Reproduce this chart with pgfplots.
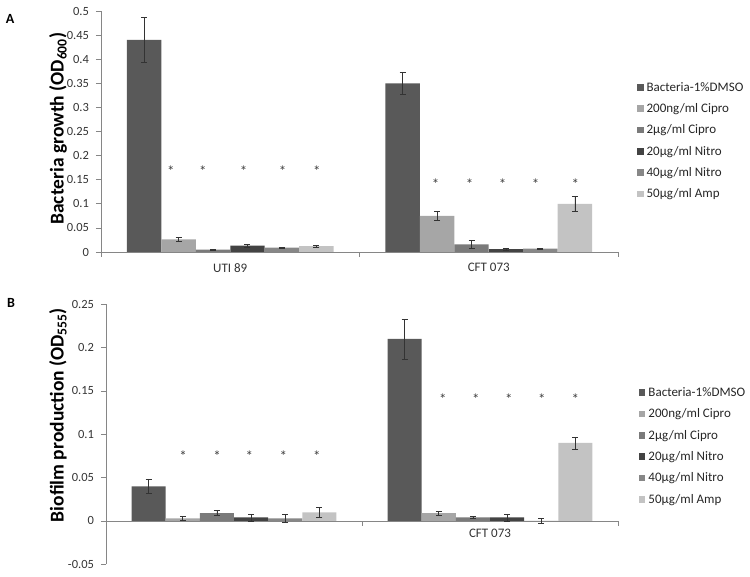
\documentclass[border=0pt]{standalone}
\usepackage{pgfplots}
\pgfplotsset{compat=1.18}
\usepackage{fontspec}
\setmainfont{Carlito}
\definecolor{axgray}{HTML}{868686}
\definecolor{c1}{HTML}{595959}
\definecolor{c2}{HTML}{A6A6A6}
\definecolor{c3}{HTML}{7A7A7A}
\definecolor{c4}{HTML}{434343}
\definecolor{c5}{HTML}{878787}
\definecolor{c6}{HTML}{C3C3C3}
\pgfplotsset{
  common/.style={
    scale only axis,
    xmin=-0.5, xmax=1.5,
    xtick={-0.5,0.5,1.5},
    x tick label as interval,
    xticklabels={UTI 89, CFT 073},
    axis y line*=left,
    axis line style={draw=axgray, line width=0.7pt},
    tick style={draw=axgray, line width=0.7pt},
    tick align=outside,
    major tick length=5pt,
    /pgf/number format/assume math mode=true,
    yticklabel style={/pgf/number format/fixed, /pgf/number format/precision=2, text=black!80,
      font=\fontsize{12.5}{15}\selectfont, xshift=-3.5pt},
    xticklabel style={font=\fontsize{13}{15}\selectfont, text=black!80},
    legend cell align=left,
    legend image code/.code={\fill[##1] (0pt,-3.4pt) rectangle (6.8pt,3.4pt);},
    legend style={draw=none, fill=none, anchor=west, inner sep=0pt,
      font=\fontsize{13}{15}\selectfont, text=black!85, row sep=6.8pt,
      /tikz/every odd column/.append style={column sep=1pt}},
  },
  bars/.style={ybar, bar width=0.1333, bar shift=0, draw=none,
    error bars/y dir=both, error bars/y explicit,
    error bars/error bar style={black!80, line width=0.7pt},
    error bars/error mark options={rotate=90, mark size=3pt, black!80, line width=0.7pt}},
  stars/.style={forget plot, draw=none, mark=none, only marks,
    nodes near coords={*},
    every node near coord/.append style={anchor=center, inner sep=0pt, font=\fontsize{15}{17}\selectfont, text=black!75}},
}
\begin{document}
\begin{tikzpicture}[x=1pt,y=1pt]
\useasboundingbox (0,0) rectangle (750,576);
\node[font=\bfseries\fontsize{14}{16}\selectfont] at (10,557) {A};
\node[font=\bfseries\fontsize{14}{16}\selectfont] at (11,273) {B};
% Panel A  (bars at group position + offset: -0.3333,-0.2,-0.0667,0.0667,0.2,0.3333)
\begin{axis}[common,
  at={(101pt,324pt)}, anchor=south west,
  width=517pt, height=241pt,
  axis x line*=bottom,
  xticklabel style={yshift=-3pt},
  ymin=0, ymax=0.5,
  ytick={0,0.05,0.1,0.15,0.2,0.25,0.3,0.35,0.4,0.45,0.5},
  ylabel={Bacteria growth (OD\textsubscript{600})},
  ylabel style={at={(axis description cs:-0.0832,0.512)}, anchor=center, font=\bfseries\fontsize{19.5}{22}\selectfont},
  legend style={at={(1.036,0.462)}},
]
\addplot[bars, fill=c1] coordinates {(-0.3333,0.44) +- (0,0.047) (0.6667,0.35) +- (0,0.022)};
\addplot[bars, fill=c2] coordinates {(-0.2,0.026) +- (0,0.004) (0.8,0.075) +- (0,0.009)};
\addplot[bars, fill=c3] coordinates {(-0.0667,0.005) +- (0,0.001) (0.9333,0.016) +- (0,0.008)};
\addplot[bars, fill=c4] coordinates {(0.0667,0.013) +- (0,0.003) (1.0667,0.006) +- (0,0.002)};
\addplot[bars, fill=c5] coordinates {(0.2,0.009) +- (0,0.001) (1.2,0.007) +- (0,0.001)};
\addplot[bars, fill=c6] coordinates {(0.3333,0.012) +- (0,0.002) (1.3333,0.1) +- (0,0.016)};
\addplot[stars] coordinates {(-0.23,0.168) (-0.106,0.168) (0.052,0.168) (0.203,0.168) (0.335,0.168)
  (0.794,0.141) (0.926,0.141) (1.054,0.141) (1.181,0.141) (1.335,0.141)};
\legend{Bacteria-1\%DMSO, 200ng/ml Cipro, 2µg/ml Cipro, 20µg/ml Nitro, 40µg/ml Nitro, 50µg/ml Amp}
\end{axis}
% Panel B
\begin{axis}[common,
  at={(106pt,11.7pt)}, anchor=south west,
  width=512pt, height=260pt,
  axis x line*=middle,
  ymin=-0.05, ymax=0.25,
  ytick={-0.05,0,0.05,0.1,0.15,0.2,0.25},
  ylabel={Biofilm production (OD\textsubscript{555})},
  ylabel style={at={(axis description cs:-0.0938,0.574)}, anchor=center, font=\bfseries\fontsize{19.5}{22}\selectfont},
  legend style={at={(1.04,0.455)}},
]
\addplot[bars, fill=c1] coordinates {(-0.3333,0.04) +- (0,0.0085) (0.6667,0.21) +- (0,0.023)};
\addplot[bars, fill=c2] coordinates {(-0.2,0.003) +- (0,0.002) (0.8,0.009) +- (0,0.002)};
\addplot[bars, fill=c3] coordinates {(-0.0667,0.009) +- (0,0.003) (0.9333,0.004) +- (0,0.001)};
\addplot[bars, fill=c4] coordinates {(0.0667,0.004) +- (0,0.004) (1.0667,0.004) +- (0,0.004)};
\addplot[bars, fill=c5] coordinates {(0.2,0.003) +- (0,0.005) (1.2,0.0) +- (0,0.003)};
\addplot[bars, fill=c6] coordinates {(0.3333,0.010) +- (0,0.006) (1.3333,0.09) +- (0,0.007)};
\addplot[stars] coordinates {(-0.199,0.075) (-0.066,0.075) (0.06,0.075) (0.193,0.075) (0.324,0.075)
  (0.816,0.141) (0.945,0.141) (1.074,0.141) (1.203,0.141) (1.333,0.141)};
\legend{Bacteria-1\%DMSO, 200ng/ml Cipro, 2µg/ml Cipro, 20µg/ml Nitro, 40µg/ml Nitro, 50µg/ml Amp}
\end{axis}
\end{tikzpicture}
\end{document}
